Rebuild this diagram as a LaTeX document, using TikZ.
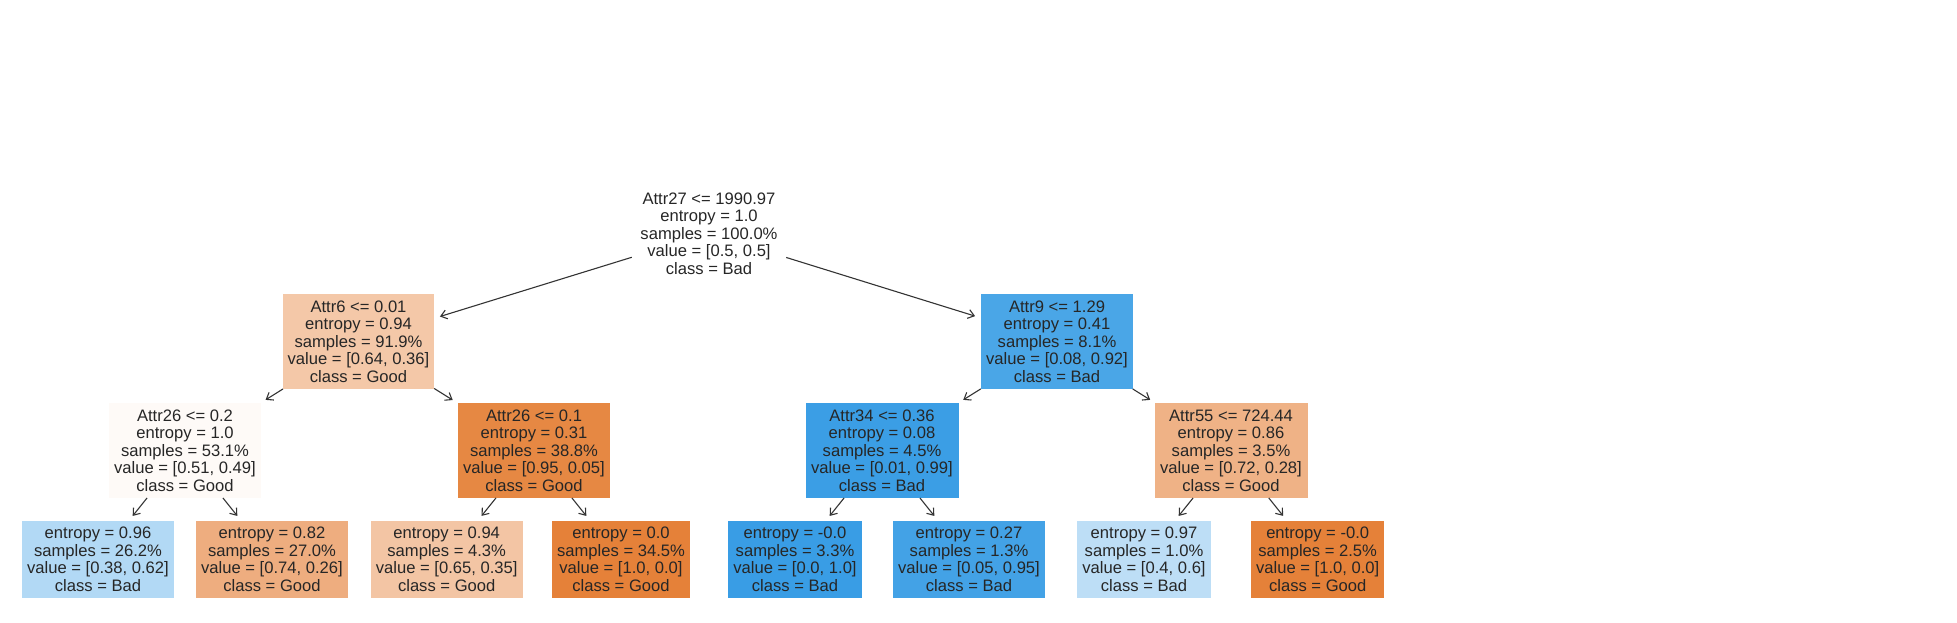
\documentclass[tikz,border=0pt]{standalone}
\usepackage{fontspec}
\setmainfont{Liberation Sans}
\usetikzlibrary{arrows.meta}
\definecolor{txt}{RGB}{38,38,38}
\definecolor{ln}{RGB}{51,51,51}
\definecolor{cA6}{RGB}{244,200,168}
\definecolor{cA9}{RGB}{74,166,231}
\definecolor{cB1}{RGB}{254,250,247}
\definecolor{cB2}{RGB}{230,136,67}
\definecolor{cB3}{RGB}{59,158,229}
\definecolor{cB4}{RGB}{239,178,134}
\definecolor{cL1}{RGB}{178,217,245}
\definecolor{cL2}{RGB}{238,173,127}
\definecolor{cL3}{RGB}{243,197,164}
\definecolor{cL4}{RGB}{229,129,57}
\definecolor{cL5}{RGB}{57,157,229}
\definecolor{cL6}{RGB}{67,162,230}
\definecolor{cL7}{RGB}{189,222,246}
\definecolor{cL8}{RGB}{229,129,57}
\tikzset{
  treenode/.style={align=center, text=txt, inner xsep=2pt, inner ysep=0pt,
    font=\fontsize{16.6}{17.5}\selectfont},
  inner/.style={treenode, minimum height=94.5pt},
  leafbox/.style={treenode, minimum height=77pt},
  edge/.style={draw=ln, line width=1.1pt, shorten >=6pt,
    -{Straight Barb[length=6pt,width=9pt,line width=1.1pt]}}
}
\begin{document}
\begin{tikzpicture}[x=1pt,y=-1pt]
\useasboundingbox (0,0) rectangle (1957,623);
\node[inner, minimum width=154pt] (root) at (709,233.5)
  {Attr27 <= 1990.97\\entropy = 1.0\\samples = 100.0\%\\value = [0.5, 0.5]\\class = Bad};
\node[inner, fill=cA6, minimum width=151pt] (a6) at (358.5,341.5)
  {Attr6 <= 0.01\\entropy = 0.94\\samples = 91.9\%\\value = [0.64, 0.36]\\class = Good};
\node[inner, fill=cA9, minimum width=152pt] (a9) at (1057,341.5)
  {Attr9 <= 1.29\\entropy = 0.41\\samples = 8.1\%\\value = [0.08, 0.92]\\class = Bad};
\node[inner, fill=cB1, minimum width=152pt] (b1) at (185,450.5)
  {Attr26 <= 0.2\\entropy = 1.0\\samples = 53.1\%\\value = [0.51, 0.49]\\class = Good};
\node[inner, fill=cB2, minimum width=152pt] (b2) at (534,450.5)
  {Attr26 <= 0.1\\entropy = 0.31\\samples = 38.8\%\\value = [0.95, 0.05]\\class = Good};
\node[inner, fill=cB3, minimum width=153pt] (b3) at (882,450.5)
  {Attr34 <= 0.36\\entropy = 0.08\\samples = 4.5\%\\value = [0.01, 0.99]\\class = Bad};
\node[inner, fill=cB4, minimum width=153pt] (b4) at (1231,450.5)
  {Attr55 <= 724.44\\entropy = 0.86\\samples = 3.5\%\\value = [0.72, 0.28]\\class = Good};
\node[leafbox, fill=cL1, minimum width=151.4pt] (l1) at (98,559.3)
  {entropy = 0.96\\samples = 26.2\%\\value = [0.38, 0.62]\\class = Bad};
\node[leafbox, fill=cL2, minimum width=151.4pt] (l2) at (272,559.3)
  {entropy = 0.82\\samples = 27.0\%\\value = [0.74, 0.26]\\class = Good};
\node[leafbox, fill=cL3, minimum width=152.3pt] (l3) at (446.7,559.3)
  {entropy = 0.94\\samples = 4.3\%\\value = [0.65, 0.35]\\class = Good};
\node[leafbox, fill=cL4, minimum width=137.5pt] (l4) at (621,559.3)
  {entropy = 0.0\\samples = 34.5\%\\value = [1.0, 0.0]\\class = Good};
\node[leafbox, fill=cL5, minimum width=133.5pt] (l5) at (795,559.3)
  {entropy = -0.0\\samples = 3.3\%\\value = [0.0, 1.0]\\class = Bad};
\node[leafbox, fill=cL6, minimum width=152.6pt] (l6) at (969,559.3)
  {entropy = 0.27\\samples = 1.3\%\\value = [0.05, 0.95]\\class = Bad};
\node[leafbox, fill=cL7, minimum width=133.5pt] (l7) at (1144,559.3)
  {entropy = 0.97\\samples = 1.0\%\\value = [0.4, 0.6]\\class = Bad};
\node[leafbox, fill=cL8, minimum width=133.5pt] (l8) at (1317.7,559.3)
  {entropy = -0.0\\samples = 2.5\%\\value = [1.0, 0.0]\\class = Good};
\draw[edge] (root) -- (a6);
\draw[edge] (root) -- (a9);
\draw[edge] (a6) -- (b1);
\draw[edge] (a6) -- (b2);
\draw[edge] (a9) -- (b3);
\draw[edge] (a9) -- (b4);
\draw[edge] (b1) -- (l1);
\draw[edge] (b1) -- (l2);
\draw[edge] (b2) -- (l3);
\draw[edge] (b2) -- (l4);
\draw[edge] (b3) -- (l5);
\draw[edge] (b3) -- (l6);
\draw[edge] (b4) -- (l7);
\draw[edge] (b4) -- (l8);
\end{tikzpicture}
\end{document}
